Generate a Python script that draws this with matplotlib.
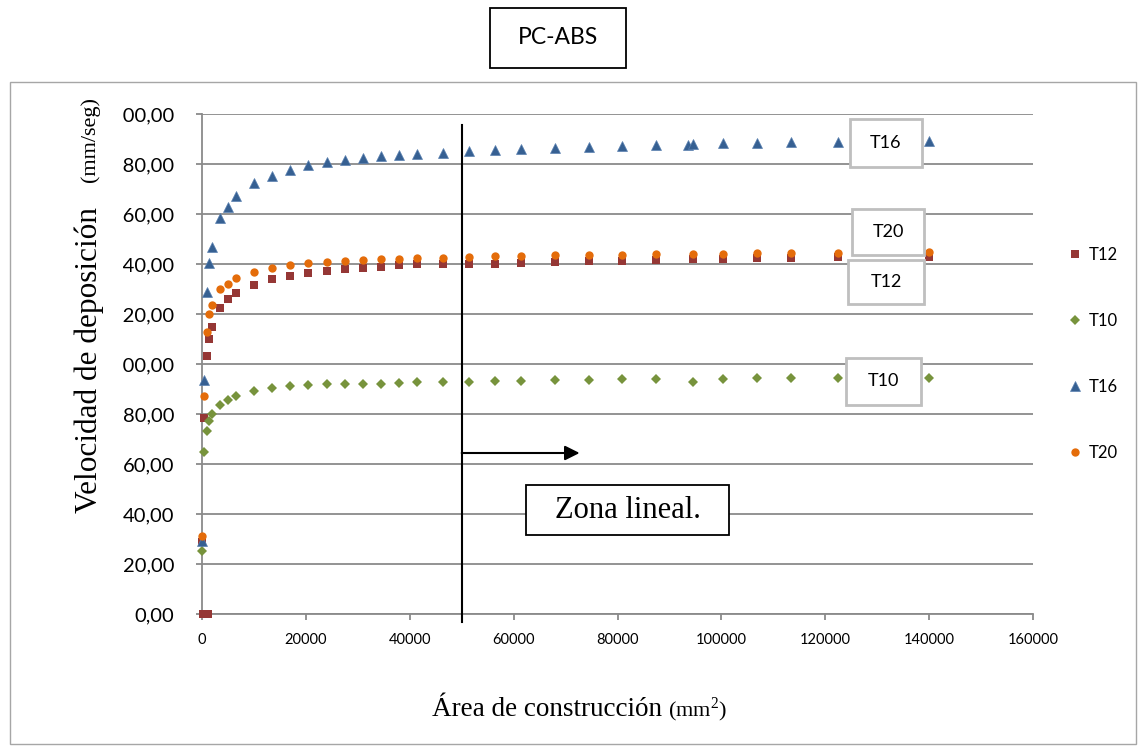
import numpy as np
import matplotlib.pyplot as plt
from matplotlib.patches import Rectangle
from matplotlib.transforms import Bbox, TransformedBbox

# --- datos ---
area = [0, 385, 900, 1400, 1920, 3400, 4940, 6480, 9940, 13400, 16920, 20440,
        23980, 27440, 30960, 34420, 37940, 41400, 46350, 51400, 56400, 61400,
        67900, 74420, 80900, 87370, 93500, 94500, 100400, 106900, 113400,
        122400, 139900]
nan = np.nan
t16 = [29.3, 93.6, 128.9, 140.3, 146.9, 158.3, 162.9, 167.2, 172.5, 175.3, 177.6,
       179.6, 180.7, 181.6, 182.4, 183.3, 183.6, 184.0, 184.5, 185.2, 185.6, 185.9,
       186.4, 186.8, 187.2, 187.5, 187.8, 187.9, 188.3, 188.5, 188.7, 188.8, 189.2]
t20 = [31.2, 87.2, 112.8, 119.9, 123.7, 129.9, 132.0, 134.3, 136.8, 138.3, 139.6,
       140.3, 140.8, 141.2, 141.6, 142.0, 142.1, 142.3, 142.5, 142.8, 143.1, 143.3,
       143.5, 143.6, 143.7, 144.0, nan, 144.0, 144.1, 144.3, 144.4, 144.5, 144.8]
t12 = [28.9, 78.5, 103.3, 110.0, 114.8, 122.5, 125.9, 128.5, 131.7, 134.0, 135.3,
       136.5, 137.3, 138.1, 138.5, 138.9, 139.7, 140.1, 140.1, 140.1, 140.1, 140.5,
       140.9, 141.3, 141.3, 141.7, nan, 141.9, 142.1, 142.4, 142.4, 142.7, 142.9]
t10 = [25.2, 64.7, 73.3, 77.2, 80.0, 83.6, 85.6, 87.2, 89.2, 90.3, 91.2,
       91.7, 92.1, 92.1, 92.1, 92.1, 92.4, 92.7, 92.8, 92.9, 93.2, 93.3,
       93.5, 93.7, 93.9, 94.0, nan, 92.9, 94.1, 94.3, 94.3, 94.5, 94.5]
# puntos de T12 con valor cero
t12_zero_area = [200, 1150]
t12_zero_vel = [0, 0]

zona_inicio = 50000
y_ticks = np.arange(0, 201, 20)
x_ticks = np.arange(0, 160001, 20000)

plt.rcParams['mathtext.fontset'] = 'custom'
plt.rcParams['mathtext.rm'] = 'Liberation Serif'

# --- figura ---
W, H = 1138, 746
fig = plt.figure(figsize=(W / 100, H / 100), dpi=100)
fx = lambda p: p / W
fy = lambda p: 1 - p / H

ax = fig.add_axes([fx(202), fy(614), (1033 - 202) / W, 500 / H])
grid_c = '#8a8a8a'

kw = dict(ls='none', clip_on=False, zorder=3)
l12, = ax.plot(area, t12, marker='s', ms=5.8, color='#953735', mew=0, **kw)
ax.plot(t12_zero_area, t12_zero_vel, marker='s', ms=5.8, color='#953735', mew=0, **kw)
l10, = ax.plot(area, t10, marker='D', ms=5.2, color='#77933c', mew=0, **kw)
l16, = ax.plot(area, t16, marker='^', ms=7.2, color='#366092', mew=0.5, mec='#5a80b0', **kw)
l20, = ax.plot(area, t20, marker='o', ms=6.0, color='#e46c0a', mew=0, **kw)

ax.set_xlim(0, 160000)
ax.set_ylim(0, 200)
ax.set_xticks(x_ticks)
ax.set_xticklabels([str(v) for v in x_ticks])
ax.set_yticks(y_ticks)
ax.set_yticklabels([f'{v:.2f}'.replace('.', ',') for v in y_ticks])
ax.yaxis.grid(True, color=grid_c, lw=1.3)
ax.set_axisbelow(True)
for s in ['top', 'right']:
    ax.spines[s].set_visible(False)
for s in ['left', 'bottom']:
    ax.spines[s].set_color(grid_c)
    ax.spines[s].set_linewidth(1.3)
ax.tick_params(axis='both', direction='out', length=4, width=1.3, color=grid_c)
ax.tick_params(axis='x', labelsize=10.5, pad=10)
ax.tick_params(axis='y', labelsize=14.5, pad=16)
for lab in ax.get_xticklabels() + ax.get_yticklabels():
    lab.set_family('Lato')
# etiquetas del eje y recortadas a la izquierda
clip = TransformedBbox(Bbox([[fx(123), 0], [1, 1]]), fig.transFigure)
for t in ax.yaxis.get_major_ticks():
    t.label1.set_clip_box(clip)
    t.label1.set_clip_on(True)

# línea vertical y flecha de la zona lineal
ax.plot([zona_inicio, zona_inicio], [-3.2, 195.6], color='k', lw=1.5, clip_on=False, zorder=4)
ax.annotate('', xy=(72700, 64.4), xytext=(zona_inicio, 64.4),
            arrowprops=dict(arrowstyle='-|>', color='k', lw=1.5, mutation_scale=22,
                            shrinkA=0, shrinkB=0))

# marco del área del gráfico
fig.add_artist(Rectangle((fx(10), fy(744)), fx(1126), (744 - 82) / H, transform=fig.transFigure,
                         fill=False, ec='#a6a6a6', lw=1))


def caja(x0, y0, x1, y1, texto, ec, lw, **tkw):
    fig.add_artist(Rectangle((fx(x0), fy(y1)), fx(x1 - x0), (y1 - y0) / H,
                             transform=fig.transFigure, fc='white', ec=ec, lw=lw, zorder=5))
    fig.text(fx((x0 + x1) / 2), fy((y0 + y1) / 2), texto, ha='center', va='center',
             zorder=6, **tkw)


caja(490, 8, 626, 68, 'PC-ABS', 'k', 1.3, family='Lato', fontsize=16.5)
caja(526, 485, 729, 535, 'Zona lineal.', 'k', 1.3, family='Liberation Serif', fontsize=22)
caja(850, 119, 922, 167, 'T16', '#bfbfbf', 2, family='Lato', fontsize=13)
caja(852, 209, 924, 255, 'T20', '#bfbfbf', 2, family='Lato', fontsize=13)
caja(848, 260, 924, 304, 'T12', '#bfbfbf', 2, family='Lato', fontsize=13)
caja(846, 358, 921, 405, 'T10', '#bfbfbf', 2, family='Lato', fontsize=13)

# títulos de ejes
fig.text(fx(89), fy(513), 'Velocidad de deposición', rotation=90, ha='center', va='bottom',
         family='Liberation Serif', fontsize=22.5)
fig.text(fx(90), fy(182), '(mm/seg)', rotation=90, ha='center', va='bottom',
         family='Liberation Serif', fontsize=16)
fig.text(fx(432), fy(716), 'Área de construcción', ha='left', va='baseline',
         family='Liberation Serif', fontsize=19.5)
fig.text(fx(668), fy(716), r'(mm$^{2}$)', ha='left', va='baseline',
         family='Liberation Serif', fontsize=16)

# leyenda
fig.legend([l12, l10, l16, l20], ['T12', 'T10', 'T16', 'T20'], loc='center left',
           bbox_to_anchor=(fx(1060), fy(354)), frameon=False, numpoints=1,
           handlelength=0.8, handletextpad=0.4, labelspacing=3.0, borderpad=0,
           prop=dict(family='Lato', size=12))

fig.savefig('out.png', dpi=100)
